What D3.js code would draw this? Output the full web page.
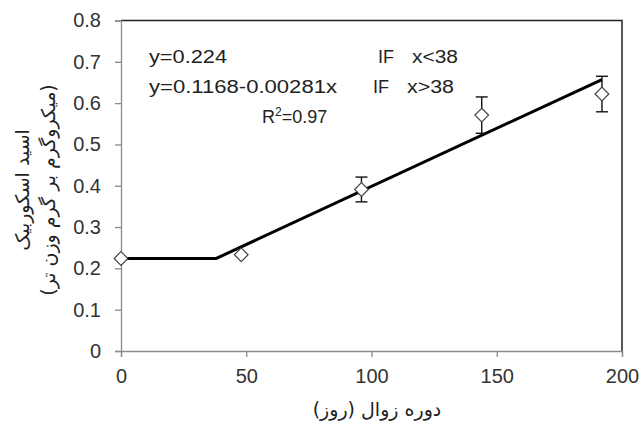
<!DOCTYPE html>
<html>
<head>
<meta charset="utf-8">
<script src="https://cdn.jsdelivr.net/npm/d3@7"></script>
<style>
  body { margin: 0; background: #fff; }
  svg { display: block; }
  .tick text { font-family: "Liberation Sans", Arial, sans-serif; font-size: 20px; fill: #333; }
  .eq { font-family: "Liberation Sans", Arial, sans-serif; font-size: 18px; fill: #222; }
  .fa { font-family: "DejaVu Sans", sans-serif; font-size: 19px; fill: #222; }
</style>
</head>
<body>
<svg id="chart" width="643" height="427"></svg>
<script>
// storage days vs ascorbic acid
const days = [0, 48, 96, 144, 192];
const acid = [0.224, 0.233, 0.391, 0.571, 0.622];
const acidErr = [0, 0, 0.03, 0.044, 0.043];

// fitted broken-line model
const fitDays = [0, 38, 192];
const fitAcid = [0.224, 0.224, 0.657];

const xTicks = [0, 50, 100, 150, 200];
const yTicks = [0, 0.1, 0.2, 0.3, 0.4, 0.5, 0.6, 0.7, 0.8];

const svg = d3.select('#chart');
const plotL = 121, plotR = 622, plotT = 20.5, plotB = 351;

const x = d3.scaleLinear().domain([0, 200]).range([plotL, plotR]);
const y = d3.scaleLinear().domain([0, 0.8]).range([plotB, plotT]);

svg.append('rect').attr('width', 643).attr('height', 427).attr('fill', '#fff');

// plot border (top / right)
svg.append('path')
  .attr('d', `M${plotL},${plotT}H${plotR}V${plotB}`)
  .attr('fill', 'none')
  .attr('stroke', '#222')
  .attr('stroke-width', 1.5);

const xAxis = svg.append('g')
  .attr('transform', `translate(0,${plotB})`)
  .call(d3.axisBottom(x).tickValues(xTicks).tickSize(6).tickPadding(12).tickFormat(d3.format('d')));

const yAxis = svg.append('g')
  .attr('transform', `translate(${plotL},0)`)
  .call(d3.axisLeft(y).tickValues(yTicks).tickSize(6).tickPadding(14)
    .tickFormat(d => d === 0 ? '0' : d.toFixed(1)));

[xAxis, yAxis].forEach(g => {
  g.select('.domain').attr('stroke', '#8a8a8a').attr('stroke-width', 1.3);
  g.selectAll('.tick line').attr('stroke', '#8a8a8a').attr('stroke-width', 1.3);
});

// fitted line
const line = d3.line().x((d, i) => x(fitDays[i])).y(d => y(d));
svg.append('path')
  .datum(fitAcid)
  .attr('d', line)
  .attr('fill', 'none')
  .attr('stroke', '#000')
  .attr('stroke-width', 3);

// error bars
const errG = svg.append('g').attr('stroke', '#111').attr('stroke-width', 1.4);
days.forEach((d, i) => {
  if (!acidErr[i]) return;
  const cx = x(d);
  const y1 = y(acid[i] + acidErr[i]);
  const y2 = y(acid[i] - acidErr[i]);
  errG.append('line').attr('x1', cx).attr('x2', cx).attr('y1', y1).attr('y2', y2);
  errG.append('line').attr('x1', cx - 6).attr('x2', cx + 6).attr('y1', y1).attr('y2', y1);
  errG.append('line').attr('x1', cx - 6).attr('x2', cx + 6).attr('y1', y2).attr('y2', y2);
});

// diamond markers
const sym = d3.symbol().type(d3.symbolDiamond2).size(120);
svg.append('g')
  .selectAll('path')
  .data(acid)
  .join('path')
  .attr('transform', (d, i) => `translate(${x(days[i])},${y(d)})`)
  .attr('d', sym)
  .attr('fill', '#fff')
  .attr('stroke', '#444')
  .attr('stroke-width', 1.2);

// equations
const eq = svg.append('g').attr('class', 'eq');
eq.append('text').attr('x', 149).attr('y', 63).attr('textLength', 78).attr('lengthAdjust', 'spacingAndGlyphs').text('y=0.224');
eq.append('text').attr('x', 378).attr('y', 63).text('IF');
eq.append('text').attr('x', 412).attr('y', 63).attr('textLength', 46).attr('lengthAdjust', 'spacingAndGlyphs').text('x<38');
eq.append('text').attr('x', 149).attr('y', 93).attr('textLength', 188).attr('lengthAdjust', 'spacingAndGlyphs').text('y=0.1168-0.00281x');
eq.append('text').attr('x', 373).attr('y', 93).text('IF');
eq.append('text').attr('x', 407).attr('y', 93).attr('textLength', 47).attr('lengthAdjust', 'spacingAndGlyphs').text('x>38');
const r2 = eq.append('text').attr('x', 262).attr('y', 123);
r2.append('tspan').text('R');
r2.append('tspan').attr('dy', -7).attr('font-size', 12).text('2');
r2.append('tspan').attr('dy', 7).text('=0.97');

// axis titles
svg.append('text')
  .attr('class', 'fa')
  .attr('x', 377).attr('y', 416)
  .attr('text-anchor', 'middle')
  .text('دوره زوال (روز)');

const yt = svg.append('g').attr('transform', 'translate(24,190) rotate(-90)');
yt.append('text').attr('class', 'fa').attr('text-anchor', 'middle').attr('y', 5).text('اسید اسکوربیک');
yt.append('text').attr('class', 'fa').attr('text-anchor', 'middle').attr('y', 31).text('(میکروگرم بر گرم وزن تر)');
</script>
</body>
</html>
